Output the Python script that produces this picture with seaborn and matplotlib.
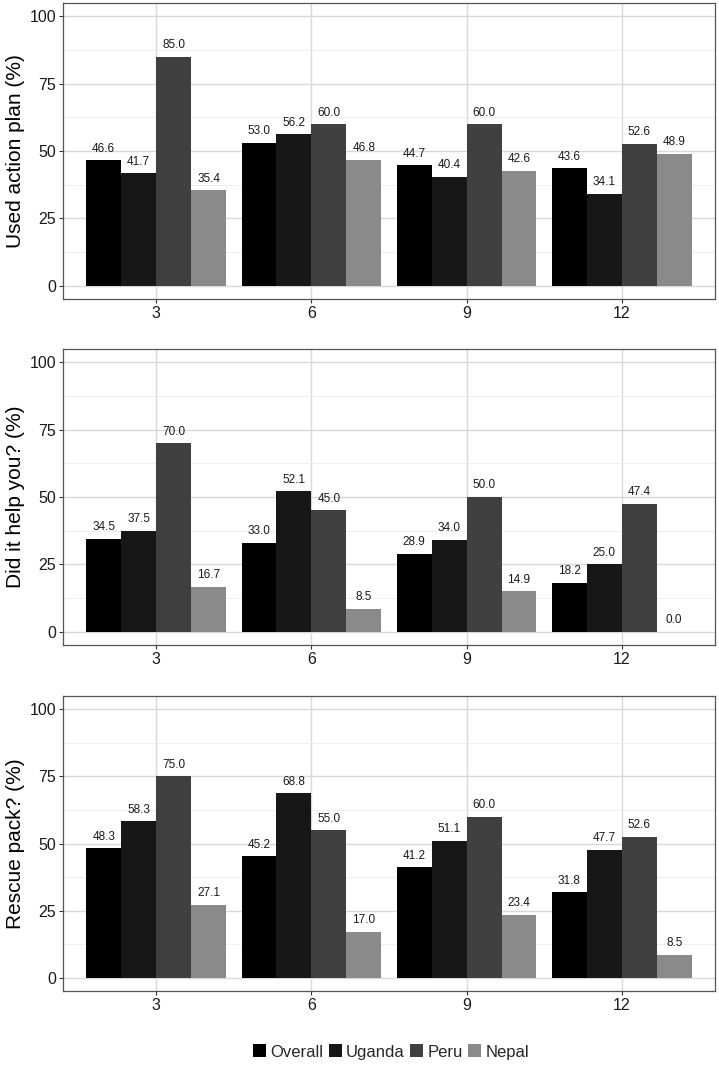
import matplotlib
matplotlib.use("Agg")
import matplotlib.pyplot as plt
import seaborn as sns
import pandas as pd
from matplotlib.patches import Patch
from matplotlib.ticker import MultipleLocator

months = ["3", "6", "9", "12"]
groups = ["Overall", "Uganda", "Peru", "Nepal"]
colors = ["#000000", "#171717", "#404040", "#8a8a8a"]

used_plan = {
    "Overall": [46.6, 53.0, 44.7, 43.6],
    "Uganda": [41.7, 56.2, 40.4, 34.1],
    "Peru": [85.0, 60.0, 60.0, 52.6],
    "Nepal": [35.4, 46.8, 42.6, 48.9],
}
helped = {
    "Overall": [34.5, 33.0, 28.9, 18.2],
    "Uganda": [37.5, 52.1, 34.0, 25.0],
    "Peru": [70.0, 45.0, 50.0, 47.4],
    "Nepal": [16.7, 8.5, 14.9, 0.0],
}
rescue = {
    "Overall": [48.3, 45.2, 41.2, 31.8],
    "Uganda": [58.3, 68.8, 51.1, 47.7],
    "Peru": [75.0, 55.0, 60.0, 52.6],
    "Nepal": [27.1, 17.0, 23.4, 8.5],
}
panels = [
    ("Used action plan (%)", used_plan),
    ("Did it help you? (%)", helped),
    ("Rescue pack? (%)", rescue),
]

sns.set_theme(style="white")
plt.rcParams["font.family"] = ["Liberation Sans", "DejaVu Sans"]

W, H = 719, 1065
fig = plt.figure(figsize=(W / 100, H / 100), dpi=100)

boxes = [(3, 299), (349, 645), (696, 991)]
left, right = 63, 715

for (ylabel, data), (top, bottom) in zip(panels, boxes):
    ax = fig.add_axes([left / W, 1 - bottom / H, (right - left) / W, (bottom - top) / H])
    rows = []
    for g in groups:
        for m, v in zip(months, data[g]):
            rows.append({"month": m, "group": g, "value": v})
    df = pd.DataFrame(rows)
    sns.barplot(data=df, x="month", y="value", hue="group", order=months,
                hue_order=groups, palette=colors, width=0.9, saturation=1,
                errorbar=None, ax=ax, legend=False, linewidth=0, zorder=2)
    for c in ax.containers:
        ax.bar_label(c, fmt="%.1f", padding=4, fontsize=8.5, color="#1a1a1a")
    ax.set_xlim(-0.6, 3.6)
    ax.set_ylim(-5, 105)
    ax.yaxis.set_minor_locator(MultipleLocator(12.5))
    ax.set_yticks([0, 25, 50, 75, 100])
    ax.set_yticklabels(["0", "25", "50", "75", "100"])
    ax.grid(True, which="major", axis="both", color="#d8d8d8", linewidth=1.0, zorder=0)
    ax.grid(True, which="minor", axis="y", color="#ececec", linewidth=0.6, zorder=0)
    ax.set_axisbelow(True)
    ax.set_xlabel("")
    ax.set_ylabel(ylabel, fontsize=15, color="black", labelpad=3)
    ax.tick_params(axis="both", which="major", labelsize=11.5, length=3, width=0.8,
                   color="#333333", labelcolor="#1a1a1a", left=True, bottom=True, pad=2)
    ax.tick_params(axis="y", which="minor", length=0)
    for s in ax.spines.values():
        s.set_color("#555555")
        s.set_linewidth(0.9)

handles = [Patch(facecolor=c, edgecolor="none", label=g) for g, c in zip(groups, colors)]
fig.legend(handles=handles, loc="center", bbox_to_anchor=(391 / W, 1 - 1052 / H),
           ncol=4, frameon=False, fontsize=12, handlelength=0.8, handleheight=0.8,
           handletextpad=0.25, columnspacing=0.3)

fig.savefig("out.png", dpi=100)
